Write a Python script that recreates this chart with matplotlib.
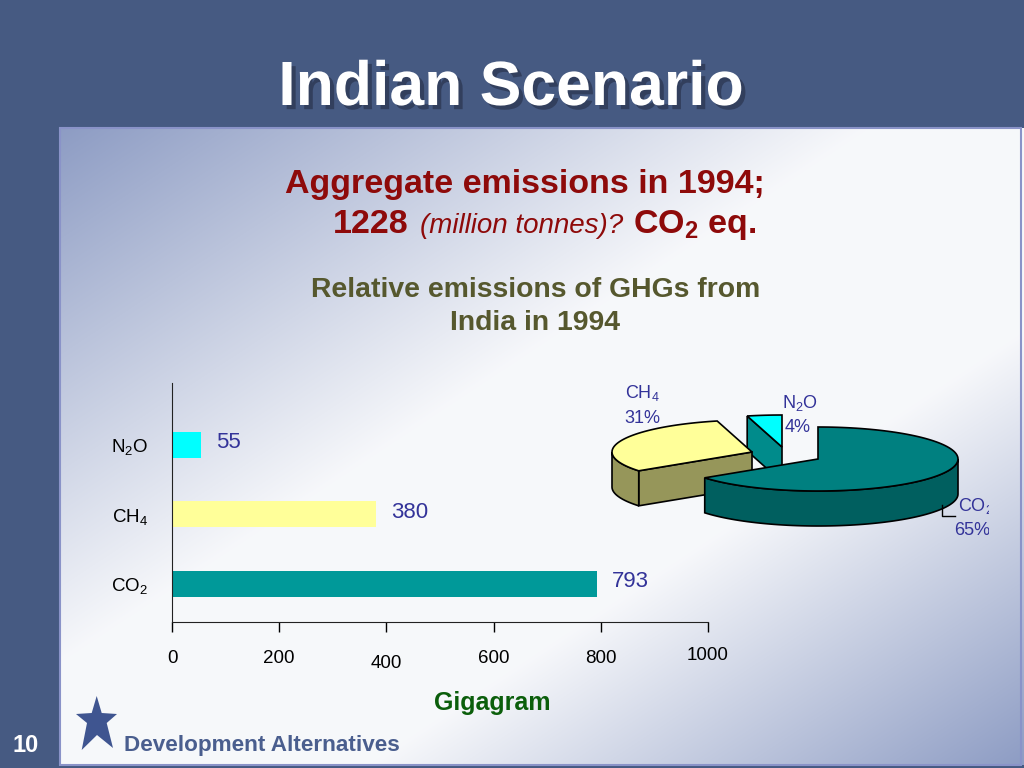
import numpy as np
import matplotlib
matplotlib.use("Agg")
import matplotlib.pyplot as plt
import matplotlib.patheffects as pe
from matplotlib.patches import Polygon, Rectangle
from matplotlib.transforms import Bbox, TransformedBbox

plt.rcParams['font.family'] = ['Liberation Sans', 'DejaVu Sans']
plt.rcParams['mathtext.fontset'] = 'custom'
plt.rcParams['mathtext.rm'] = 'Liberation Sans'
plt.rcParams['mathtext.it'] = 'Liberation Sans:italic'
plt.rcParams['mathtext.bf'] = 'Liberation Sans:bold'

# data
gases = [r'CO$_2$', r'CH$_4$', r'N$_2$O']
gigagram = [793, 380, 55]
bar_colors = ['#009999', '#FFFF99', '#00FFFF']
xticks = [0, 200, 400, 600, 800, 1000]

pie_labels = [r'N$_2$O', r'CH$_4$', r'CO$_2$']
pie_pct = [4, 31, 65]
pie_top = ['#00FFFF', '#FFFF99', '#008080']
pie_side = ['#008B8B', '#96965A', '#005F5F']
pie_shift = [(-36, -12), (-66, -7), (0, 0)]

fig = plt.figure(figsize=(10.24, 7.68), dpi=100)
fig.patch.set_facecolor('#465A82')

bg = fig.add_axes([0, 0, 1, 1])
bg.set_xlim(0, 1024)
bg.set_ylim(768, 0)
bg.axis('off')

# panel gradient: blue in top-left and bottom-right corners, pale band between
W, H = 964, 637
X, Y = np.meshgrid(np.linspace(0, 1, W), np.linspace(0, 1, H))
u = (X + Y) / 2
t = np.where(u < 0.42, (0.42 - u) / 0.42, np.where(u > 0.66, (u - 0.66) / 0.34, 0.0))
t = np.clip(t, 0, 1) * 0.92 + 0.07
blue = np.array([0x8C, 0x9B, 0xC3]) / 255
white = np.array([1.0, 1.0, 1.0])
img = white + (blue - white) * t[..., None]
bg.imshow(img, extent=(60, 1024, 765, 128), aspect='auto', zorder=0)
bg.add_patch(Rectangle((60, 128), 961, 637, fill=False, ec='#8A93C8', lw=1.5, zorder=1))

# title with drop shadow
bg.text(511, 105, 'Indian Scenario', fontsize=45, fontweight='bold', color='white',
        ha='center', va='baseline',
        path_effects=[pe.withSimplePatchShadow(offset=(3, -3), shadow_rgbFace='#252D45',
                                               alpha=0.6)])

red = '#8E0A0A'
bg.text(285, 193, 'Aggregate emissions in 1994;', fontsize=24.5, fontweight='bold',
        color=red, va='baseline')
bg.text(333, 233, '1228', fontsize=24.5, fontweight='bold', color=red, va='baseline')
bg.text(420, 233, '(million tonnes)?', fontsize=20, style='italic', color=red, va='baseline')
bg.text(633, 233, r'CO$_\mathbf{2}$ eq.', fontsize=24.5, fontweight='bold', color=red,
        va='baseline')

olive = '#56582E'
bg.text(536, 297, 'Relative emissions of GHGs from', fontsize=20.4, fontweight='bold',
        color=olive, ha='center', va='baseline')
bg.text(535, 330, 'India in 1994', fontsize=20.4, fontweight='bold', color=olive,
        ha='center', va='baseline')

# footer
bg.text(12, 752, '10', fontsize=17, fontweight='bold', color='white', va='baseline')
star = [(96.7, 696), (101.7, 713), (117, 714), (106.7, 723), (113, 748), (97, 735),
        (81.7, 750), (87, 723), (76, 714), (91.7, 713)]
bg.add_patch(Polygon(star, closed=True, fc='#3F5590', ec='none', zorder=3))
bg.text(124, 751, 'Development Alternatives', fontsize=16.2, fontweight='bold',
        color='#4A5E8E', va='baseline')

# bar chart
ax = fig.add_axes([172 / 1024, 146 / 768, 536 / 1024, 239 / 768])
ax.patch.set_alpha(0)
ypos = np.arange(len(gases))
ax.barh(ypos, gigagram, height=0.374, color=bar_colors, zorder=2)
for y, v in zip(ypos, gigagram):
    ax.text(v + 28, y + 0.03, str(v), fontsize=16, color='#333399', va='center')
ax.set_xlim(0, 1000)
ax.set_ylim(-0.547, 2.89)
ax.set_xticks(xticks)
ax.set_xticklabels([str(v) for v in xticks], fontsize=13.5)
ax.set_yticks(ypos)
ax.set_yticklabels(gases, fontsize=13.5)
ax.tick_params(axis='x', direction='out', length=7, width=1, pad=13)
ax.tick_params(axis='y', length=0, pad=17)
ax.xaxis.get_major_ticks()[2].set_pad(16.5)
ax.xaxis.get_major_ticks()[5].set_pad(11)
for s in ['top', 'right']:
    ax.spines[s].set_visible(False)
for s in ['left', 'bottom']:
    ax.spines[s].set_color('#222222')
ax.set_xlabel('Gigagram', fontsize=18, fontweight='bold', color='#0B5E0B')
ax.xaxis.set_label_coords(0.597, -0.29)

# 3-D pie
cx, cy, rx, ry, depth = 818, 459, 140, 32, 35


def pt(a, ox, oy, dz=0.0):
    r = np.radians(a)
    return (cx + ox + rx * np.cos(r), cy + oy - ry * np.sin(r) + dz)


def arc(a0, a1, ox, oy, dz=0.0):
    n = max(2, int(abs(a1 - a0) / 2) + 2)
    return [pt(a, ox, oy, dz) for a in np.linspace(a0, a1, n)]


slices = []
start = 90.0
for i, p in enumerate(pie_pct):
    a0 = start
    a1 = start + 360.0 * p / sum(pie_pct)
    slices.append((i, a0, a1))
    start = a1
slices.sort(key=lambda s: -np.sin(np.radians((s[1] + s[2]) / 2)))

z = 5
for i, a0, a1 in slices:
    ox, oy = pie_shift[i]
    c = (cx + ox, cy + oy)
    cd = (cx + ox, cy + oy + depth)
    faces = []
    if np.sin(np.radians(a0 - 90)) < 0:
        faces.append([c, pt(a0, ox, oy), pt(a0, ox, oy, depth), cd])
    if np.sin(np.radians(a1 + 90)) < 0:
        faces.append([c, pt(a1, ox, oy), pt(a1, ox, oy, depth), cd])
    for f in faces:
        bg.add_patch(Polygon(f, closed=True, fc=pie_side[i], ec='black', lw=1.2, zorder=z))
    for k in (-1, 0, 1):
        b0 = max(a0, 180 + 360 * k)
        b1 = min(a1, 360 + 360 * k)
        if b1 > b0:
            rim = arc(b0, b1, ox, oy) + arc(b1, b0, ox, oy, depth)
            bg.add_patch(Polygon(rim, closed=True, fc=pie_side[i], ec='black', lw=1.2,
                                 zorder=z))
    top = [c] + arc(a0, a1, ox, oy)
    bg.add_patch(Polygon(top, closed=True, fc=pie_top[i], ec='black', lw=1.2,
                         zorder=z + 0.5))
    z += 1

clipbox = TransformedBbox(Bbox([[0, 0], [989, 768]]), bg.transData)
navy = '#333399'
pie_text = [
    bg.text(800, 408, pie_labels[0], fontsize=13, color=navy, ha='center', va='baseline'),
    bg.text(798, 432, f'{pie_pct[0]}%', fontsize=13, color=navy, ha='center', va='baseline'),
    bg.text(642, 398, pie_labels[1], fontsize=13, color=navy, ha='center', va='baseline'),
    bg.text(642, 423, f'{pie_pct[1]}%', fontsize=13, color=navy, ha='center', va='baseline'),
    bg.text(958, 511, pie_labels[2], fontsize=13, color=navy, ha='left', va='baseline'),
    bg.text(954, 535, f'{pie_pct[2]}%', fontsize=13, color=navy, ha='left', va='baseline'),
]
for tx in pie_text:
    tx.set_clip_box(clipbox)
    tx.set_clip_on(True)
bg.plot([942, 942, 955], [505, 516, 516], color='black', lw=1, zorder=10)

fig.savefig('out.png', dpi=100, facecolor=fig.get_facecolor())
